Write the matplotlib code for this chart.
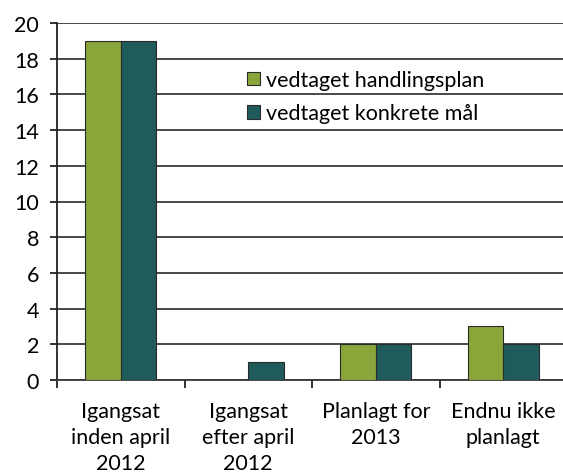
import matplotlib
matplotlib.use("Agg")
import matplotlib.pyplot as plt
import numpy as np

categories = ["Igangsat\ninden april\n2012", "Igangsat\nefter april\n2012", "Planlagt for\n2013", "Endnu ikke\nplanlagt"]
series_names = ["vedtaget handlingsplan", "vedtaget konkrete mål"]
handlingsplan = [19, 0, 2, 3]
konkrete_maal = [19, 1, 2, 2]
yticks = [0, 2, 4, 6, 8, 10, 12, 14, 16, 18, 20]

green = "#8aa63a"
teal = "#1f5b5b"

plt.rcParams['font.family'] = ['Lato', 'DejaVu Sans']

fig = plt.figure(figsize=(5.63, 4.77), dpi=100)
ax = fig.add_axes([57/563, 96/477, 510/563, 357/477])

x = np.arange(len(categories))
w = 0.28
ax.bar(x - w/2, handlingsplan, w, color=green, edgecolor="#2a2a2a", linewidth=0.8, label=series_names[0], zorder=3)
ax.bar(x + w/2, konkrete_maal, w, color=teal, edgecolor="#2a2a2a", linewidth=0.8, label=series_names[1], zorder=3)

ax.set_xlim(-0.5, len(categories) - 0.5)
ax.set_ylim(0, 20)
ax.set_yticks(yticks)
ax.yaxis.grid(True, color="#3a3a3a", linewidth=1.3, zorder=0)
ax.set_axisbelow(True)

for s in ["top", "right"]:
    ax.spines[s].set_visible(False)
ax.spines["left"].set_color("#222222")
ax.spines["left"].set_linewidth(1.3)
ax.spines["bottom"].set_color("#3a3a3a")
ax.spines["bottom"].set_linewidth(1.3)

ax.set_xticks(x)
ax.set_xticklabels(categories, fontsize=15.5, linespacing=1.38)
ax.tick_params(axis='x', which='major', length=0, pad=15)
ax.set_xticks(np.arange(-0.5, len(categories), 1.0), minor=True)
ax.tick_params(axis='x', which='minor', length=6, width=1.3, color="#222222")
ax.tick_params(axis='y', length=5, width=1.3, color="#222222", labelsize=15.5, pad=8)

leg = ax.legend(loc="upper left", bbox_to_anchor=(247/563, 1 - 71/477), bbox_transform=fig.transFigure,
                frameon=False, fontsize=15.5, handlelength=0.6, handleheight=0.6,
                handletextpad=0.3, labelspacing=0.62, borderpad=0, borderaxespad=0)

fig.savefig("out.png", dpi=100)
